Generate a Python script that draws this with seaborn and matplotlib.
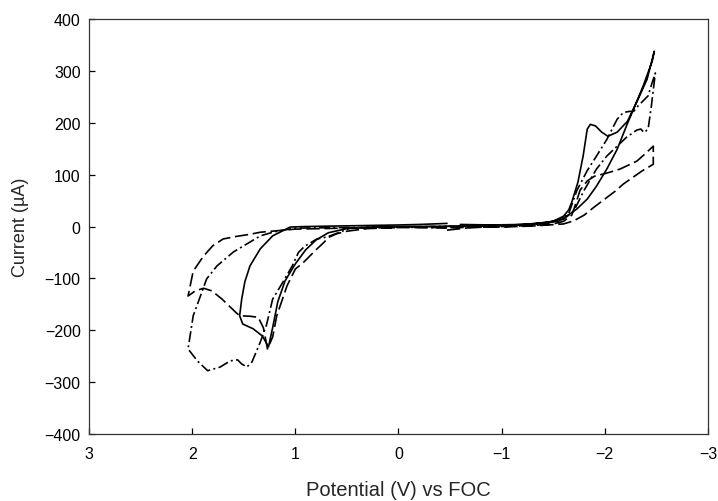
import matplotlib
matplotlib.use("Agg")
import matplotlib.pyplot as plt
import seaborn as sns
import pandas as pd

# Cyclic voltammograms: potential (V vs FOC) and current (uA), in scan order
solid_v = [-0.47, -0.2, 0.0, 0.3, 0.6, 0.9, 1.05, 1.22, 1.34, 1.44, 1.49, 1.52, 1.54,
           1.51, 1.41, 1.32, 1.26, 1.22, 1.17, 1.10, 1.0, 0.9, 0.8, 0.68, 0.5, 0.2,
           -0.2, -0.6, -1.0, -1.3, -1.5, -1.6, -1.65, -1.68, -1.74, -1.79, -1.83,
           -1.86, -1.91, -1.97, -2.03, -2.12, -2.22, -2.31, -2.41, -2.48,
           -2.46, -2.37, -2.29, -2.21, -2.12, -2.02, -1.92, -1.83, -1.73, -1.6,
           -1.45, -1.2, -0.9, -0.6]
solid_i = [6, 4, 3, 2, 1, 0, -1, -18, -43, -76, -107, -140, -172,
           -188, -197, -211, -232, -195, -145, -105, -72, -45, -26, -12, -4, -1,
           0, 1, 2, 5, 10, 20, 32, 47, 86, 136, 188,
           197, 194, 182, 174, 182, 203, 240, 284, 338,
           319, 270, 232, 194, 149, 111, 78, 53, 34, 16,
           8, 4, 3, 4]

dash_v = [-0.47, -0.7, -1.0, -1.3, -1.5, -1.6, -1.68, -1.72, -1.76, -1.83, -1.9,
          -2.0, -2.07, -2.15, -2.31, -2.39, -2.47, -2.47, -2.36, -2.18, -2.10,
          -1.9, -1.8, -1.7, -1.6, -1.3, -1.0, -0.5, 0.0, 0.5, 1.0, 1.34, 1.44,
          1.57, 1.70, 1.80, 1.89, 1.99, 2.04, 1.97, 1.89, 1.81, 1.71, 1.58, 1.54,
          1.44, 1.36, 1.31, 1.27, 1.22, 1.18, 1.08, 1.0, 0.92, 0.8, 0.72, 0.68,
          0.6, 0.5, 0.3, 0.0]
dash_i = [-7, -2, 0, 2, 5, 10, 22, 45, 70, 88, 97,
          102, 106, 111, 126, 140, 155, 120, 107, 82, 68,
          38, 22, 11, 5, 1, -1, -2, -2, -3, -5, -11, -15,
          -19, -24, -37, -57, -86, -134, -124, -119, -124, -140, -165, -172,
          -173, -175, -195, -236, -213, -172, -114, -82, -69, -45, -30, -21,
          -14, -9, -4, -2]

dashdot_v = [-0.47, 0.0, 0.5, 1.0, 1.2, 1.34, 1.44, 1.6, 1.76, 1.86, 1.92, 1.99,
             2.04, 1.95, 1.85, 1.73, 1.63, 1.56, 1.52, 1.47, 1.42, 1.34, 1.28,
             1.22, 1.12, 1.03, 0.97, 0.91, 0.79, 0.69, 0.57, 0.47, 0.2, -0.3,
             -0.8, -1.2, -1.45, -1.6, -1.7, -1.8, -1.92, -2.02, -2.12, -2.21,
             -2.31, -2.35, -2.38, -2.42, -2.45, -2.49, -2.46, -2.42, -2.37, -2.31,
             -2.28, -2.24, -2.18, -2.12, -2.02, -1.92, -1.83, -1.73, -1.65, -1.55,
             -1.3, -0.9, -0.47]
dashdot_i = [-3, -1, -2, -3, -10, -18, -30, -49, -76, -101, -134, -172,
             -236, -259, -278, -271, -259, -257, -265, -271, -261, -223, -190,
             -140, -107, -76, -50, -38, -24, -20, -11, -3, -1, 0,
             1, 3, 7, 14, 30, 70, 111, 136, 155, 172,
             186, 188, 181, 188, 230, 296, 278, 252, 242, 230,
             222, 222, 220, 207, 168, 136, 108, 70, 25, 10,
             4, 1, 0]

x_ticks = [3, 2, 1, 0, -1, -2, -3]
y_ticks = [-400, -300, -200, -100, 0, 100, 200, 300, 400]

frames = []
for name, v, i in [("solid", solid_v, solid_i),
                   ("dashed", dash_v, dash_i),
                   ("dashdot", dashdot_v, dashdot_i)]:
    frames.append(pd.DataFrame({"V": v, "I": i, "scan": name, "order": range(len(v))}))
df = pd.concat(frames, ignore_index=True)

sns.set_style("ticks")
plt.rcParams["font.family"] = ["Liberation Sans", "DejaVu Sans"]
plt.rcParams["axes.unicode_minus"] = True

fig = plt.figure(figsize=(7.18, 5.02), dpi=100)
ax = fig.add_axes([0.124, 0.1335, 0.862, 0.8265])

sns.lineplot(data=df, x="V", y="I", style="scan", units="scan", estimator=None,
             sort=False, color="black", linewidth=1.2, ax=ax, legend=False,
             dashes={"solid": "", "dashed": (8, 2.8), "dashdot": (6.5, 2, 1.2, 2)})

ax.set_xlim(3, -3)
ax.set_ylim(-400, 400)
ax.set_xticks(x_ticks)
ax.set_xticklabels([str(t).replace("-", "\u2212") for t in x_ticks])
ax.set_yticks(y_ticks)
ax.set_yticklabels([str(t).replace("-", "\u2212") for t in y_ticks])

ax.tick_params(axis="both", direction="in", length=4, width=0.9, labelsize=11.5,
               colors="black", top=False, right=False)
ax.tick_params(axis="x", pad=9)
ax.tick_params(axis="y", pad=6)
for s in ax.spines.values():
    s.set_linewidth(0.9)
    s.set_color("#333333")

ax.set_xlabel("Potential (V) vs FOC", fontsize=14.5, labelpad=13)
ax.set_ylabel("Current (\u00b5A)", fontsize=13, labelpad=11)

fig.savefig("out.png", dpi=100)
